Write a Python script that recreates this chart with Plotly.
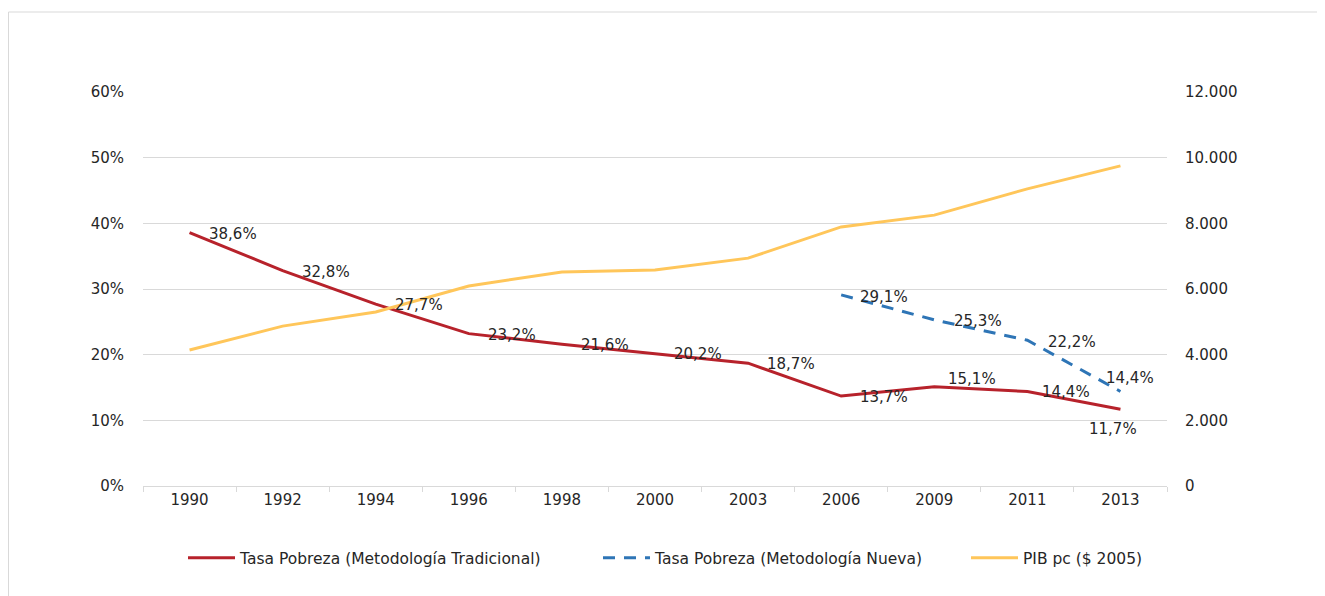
import plotly.graph_objects as go

years = ["1990", "1992", "1994", "1996", "1998", "2000", "2003", "2006", "2009", "2011", "2013"]
pobreza_trad = [38.6, 32.8, 27.7, 23.2, 21.6, 20.2, 18.7, 13.7, 15.1, 14.4, 11.7]
years_nueva = ["2006", "2009", "2011", "2013"]
pobreza_nueva = [29.1, 25.3, 22.2, 14.4]
pib_pc = [4140, 4870, 5300, 6090, 6520, 6580, 6940, 7890, 8250, 9050, 9750]

name_trad = "Tasa Pobreza (Metodología Tradicional)"
name_nueva = "Tasa Pobreza (Metodología Nueva)"
name_pib = "PIB pc ($ 2005)"

RED = "#B7222B"
BLUE = "#2E75B6"
YELLOW = "#FFC65A"
GRID = "#D9D9D9"
TXT = "#262626"
FONT = "DejaVu Sans"

fig = go.Figure()
fig.add_trace(go.Scatter(x=years, y=pobreza_trad, name=name_trad, mode="lines",
                         line=dict(color=RED, width=3), yaxis="y", legend="legend"))
fig.add_trace(go.Scatter(x=years_nueva, y=pobreza_nueva, name=name_nueva, mode="lines",
                         line=dict(color=BLUE, width=3, dash="12px,9px"), yaxis="y", legend="legend2"))
fig.add_trace(go.Scatter(x=years, y=pib_pc, name=name_pib, mode="lines",
                         line=dict(color=YELLOW, width=3), yaxis="y2", legend="legend3"))


def fmt(v):
    return f"{v:.1f}%".replace(".", ",")


# label placement styles (per point): (xanchor, xshift, yshift)
trad_pos = [("left", 17, -1)] * 7 + [("left", 17, -1), ("left", 12, 8), ("left", 13, -1), ("center", -7, -20)]
nueva_pos = [("left", 17, -2), ("left", 18, -1), ("left", 19, -2), ("center", 10, 13)]

annotations = []
for x, v, (xa, xs, ys) in zip(years, pobreza_trad, trad_pos):
    annotations.append(dict(x=years.index(x), y=v, xref="x", yref="y", text=fmt(v), showarrow=False,
                            xanchor=xa, yanchor="middle", xshift=xs, yshift=ys,
                            font=dict(family=FONT, size=15, color=TXT)))
for x, v, (xa, xs, ys) in zip(years_nueva, pobreza_nueva, nueva_pos):
    annotations.append(dict(x=years.index(x), y=v, xref="x", yref="y", text=fmt(v), showarrow=False,
                            xanchor=xa, yanchor="middle", xshift=xs, yshift=ys,
                            font=dict(family=FONT, size=15, color=TXT)))


def leg(px):
    return dict(orientation="h", x=(px - 143) / 1024, xanchor="left", y=-0.183, yanchor="middle",
                font=dict(family=FONT, size=15.5, color=TXT), bgcolor="rgba(0,0,0,0)", itemwidth=47)


fig.update_layout(
    width=1325, height=596,
    margin=dict(l=135, r=166, t=84, b=118, autoexpand=False),
    paper_bgcolor="white", plot_bgcolor="white",
    separators=",.",
    font=dict(family=FONT, size=15, color=TXT),
    xaxis=dict(type="category", categoryorder="array", categoryarray=years,
               range=[-0.5, len(years) - 0.5], autorange=False,
               showgrid=False, showline=True, linecolor=GRID, linewidth=1,
               ticks="outside", tickson="boundaries", ticklen=5, tickcolor=GRID,
               tickfont=dict(family=FONT, size=15, color=TXT), zeroline=False),
    yaxis=dict(range=[0, 60], dtick=10, ticksuffix="%", showgrid=True, gridcolor=GRID,
               gridwidth=1, zeroline=False, showline=False, ticks="", ticklabelstandoff=18,
               tickfont=dict(family=FONT, size=15, color=TXT)),
    yaxis2=dict(range=[0, 12000], dtick=2000, tickformat=",d", overlaying="y", side="right",
                showgrid=False, zeroline=False, showline=False, ticks="", ticklabelstandoff=17,
                tickfont=dict(family=FONT, size=15, color=TXT)),
    legend=leg(183),
    legend2=leg(598),
    legend3=leg(966),
    annotations=annotations,
    shapes=[dict(type="rect", xref="paper", yref="paper", x0=(0.5 - 135) / 1024, x1=1.5,
                 y0=-1.0, y1=(478 - 4) / 394, line=dict(color=GRID, width=1), layer="below")],
    showlegend=True,
)

fig.write_html("out.html")
